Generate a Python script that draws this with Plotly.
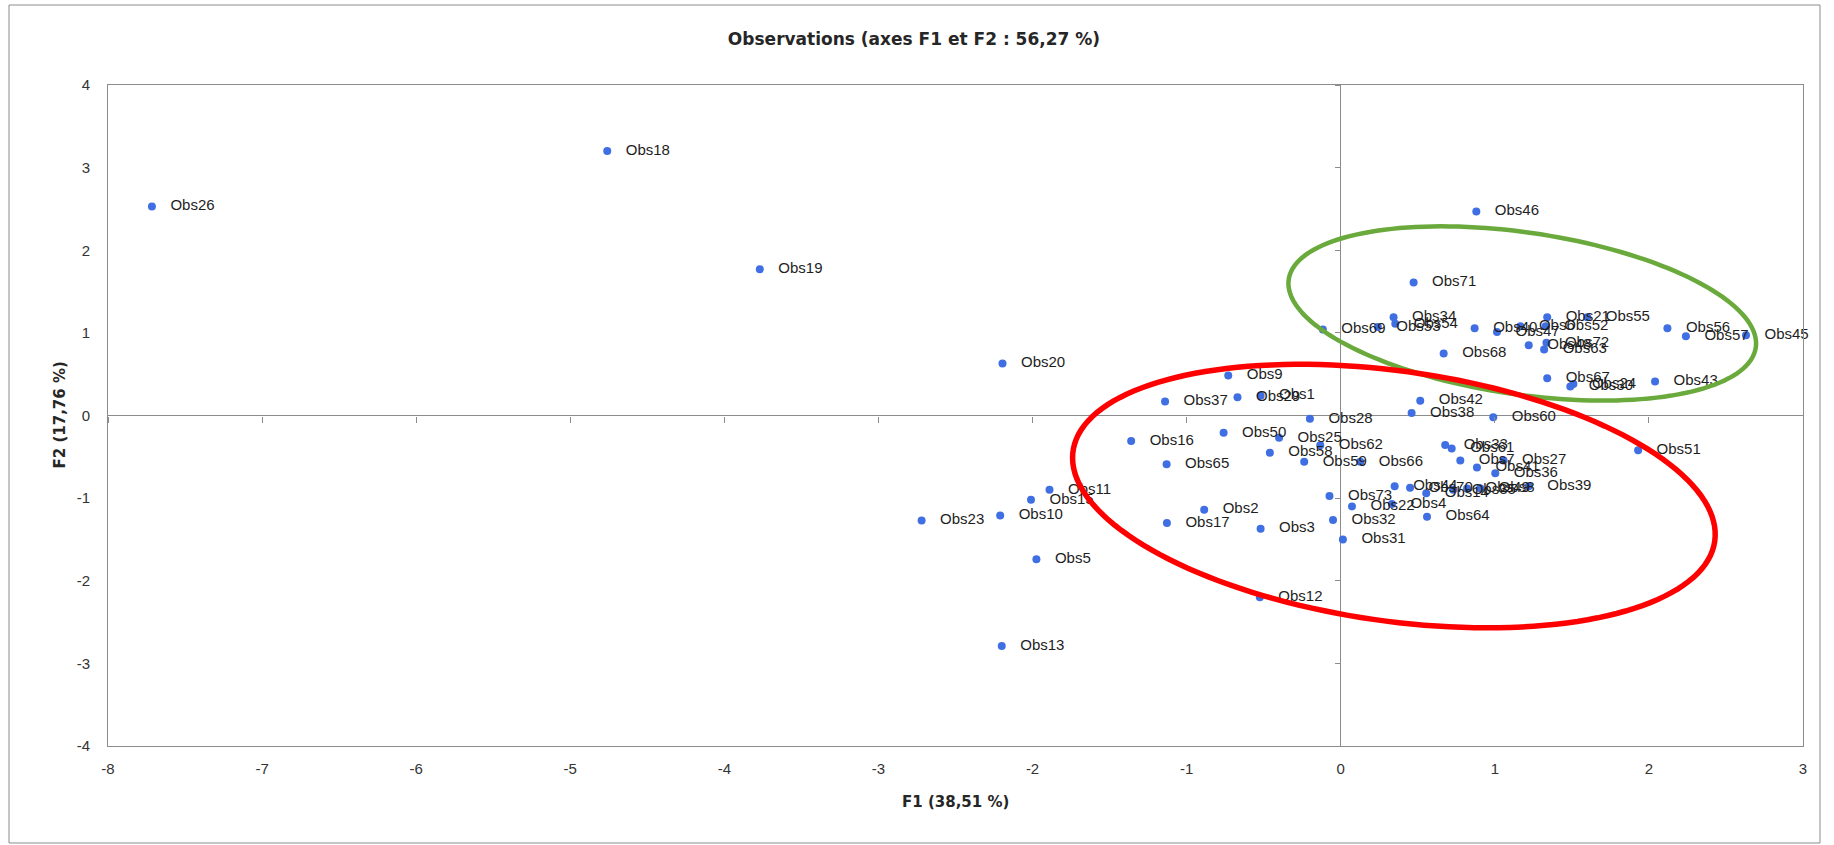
import numpy as np
import plotly.graph_objects as go

# ---------------- data ----------------
labels = [
    "Obs1", "Obs2", "Obs3", "Obs4", "Obs5", "Obs6", "Obs7", "Obs8", "Obs9", "Obs10",
    "Obs11", "Obs12", "Obs13", "Obs14", "Obs15", "Obs16", "Obs17", "Obs18", "Obs19", "Obs20",
    "Obs21", "Obs22", "Obs23", "Obs24", "Obs25", "Obs26", "Obs27", "Obs28", "Obs29", "Obs30",
    "Obs31", "Obs32", "Obs33", "Obs34", "Obs35", "Obs36", "Obs37", "Obs38", "Obs39", "Obs40",
    "Obs41", "Obs42", "Obs43", "Obs44", "Obs45", "Obs46", "Obs47", "Obs48", "Obs49", "Obs50",
    "Obs51", "Obs52", "Obs53", "Obs54", "Obs55", "Obs56", "Obs57", "Obs58", "Obs59", "Obs60",
    "Obs61", "Obs62", "Obs63", "Obs64", "Obs65", "Obs66", "Obs67", "Obs68", "Obs69", "Obs70",
    "Obs71", "Obs72", "Obs73",
]
f1 = [
    -0.52, -0.886, -0.52, 0.332, -1.975, 1.166, 0.776, 0.905, -0.73, -2.21,
    -1.89, -0.525, -2.20, 0.555, -2.01, -1.36, -1.128, -4.76, -3.77, -2.195,
    1.34, 0.073, -2.72, 1.51, -0.40, -7.715, 1.057, -0.20, -0.67, 1.49,
    0.014, -0.05, 0.678, 0.343, 0.73, 1.003, -1.14, 0.46, 1.22, 0.869,
    0.884, 0.516, 2.04, 0.35, 2.63, 0.88, 1.014, 1.22, 0.82, -0.76,
    1.93, 1.33, 0.241, 0.354, 1.60, 2.12, 2.24, -0.46, -0.237, 0.99,
    0.72, -0.133, 1.32, 0.56, -1.13, 0.127, 1.34, 0.668, -0.116, 0.45,
    0.473, 1.335, -0.073,
]
f2 = [
    0.24, -1.14, -1.37, -1.07, -1.74, 1.08, -0.545, -0.88, 0.485, -1.21,
    -0.90, -2.20, -2.79, -0.94, -1.02, -0.31, -1.30, 3.20, 1.77, 0.63,
    1.19, -1.10, -1.27, 0.38, -0.27, 2.53, -0.545, -0.04, 0.22, 0.35,
    -1.50, -1.265, -0.357, 1.19, -0.90, -0.70, 0.17, 0.03, -0.855, 1.055,
    -0.63, 0.18, 0.41, -0.855, 0.97, 2.47, 1.01, 0.85, -0.885, -0.21,
    -0.42, 1.08, 1.07, 1.11, 1.19, 1.055, 0.96, -0.45, -0.56, -0.02,
    -0.40, -0.36, 0.80, -1.225, -0.59, -0.56, 0.45, 0.75, 1.04, -0.875,
    1.61, 0.88, -0.975,
]

x_ticks = [-8, -7, -6, -5, -4, -3, -2, -1, 0, 1, 2, 3]
x_tick_labels = ["-8", "-7", "-6", "-5", "-4", "-3", "-2", "-1", "0", "1", "2", "3"]
y_ticks = [-4, -3, -2, -1, 0, 1, 2, 3, 4]
y_tick_labels = ["-4", "-3", "-2", "-1", "0", "1", "2", "3", "4"]

title_text = "Observations (axes F1 et F2 : 56,27 %)"
x_title = "F1 (38,51 %)"
y_title = "F2 (17,76 %)"
x_range = [-8, 3]
y_range = [-4, 4]

# highlight ellipses: centre (data units), semi-axes (px), tilt (deg)
green_ellipse = dict(cx=1.178, cy=1.235, a=236, b=81, tilt=8.3)
red_ellipse = dict(cx=0.345, cy=-0.975, a=324, b=125, tilt=8.0)

# ---------------- layout geometry ----------------
W, H = 1834, 845
M = dict(l=108, r=31, t=85, b=99)
plot_w = W - M["l"] - M["r"]
plot_h = H - M["t"] - M["b"]
pxx = plot_w / (x_range[1] - x_range[0])
pxy = plot_h / (y_range[1] - y_range[0])


def ellipse_path(e, n=160):
    th = np.radians(e["tilt"])
    t = np.linspace(0, 2 * np.pi, n)
    dx = e["a"] * np.cos(th) * np.cos(t) - e["b"] * np.sin(th) * np.sin(t)
    dy = e["a"] * np.sin(th) * np.cos(t) + e["b"] * np.cos(th) * np.sin(t)
    xs = e["cx"] + dx / pxx
    ys = e["cy"] - dy / pxy
    return "M " + " L ".join(f"{x:.4f},{y:.4f}" for x, y in zip(xs, ys)) + " Z"


FONT = "Liberation Sans, Arial, sans-serif"
TFONT = "DejaVu Sans, Verdana, sans-serif"
GRAY = "#8c8c8c"
pad = "\u00a0\u00a0\u00a0"

fig = go.Figure()
fig.add_trace(go.Scatter(
    x=f1, y=f2, mode="markers+text",
    text=[pad + s for s in labels],
    textposition="middle right",
    textfont=dict(family=FONT, size=15, color="#1e1e1e"),
    marker=dict(size=8, color="#3F6FE2"),
    cliponaxis=False,
    showlegend=False, hoverinfo="text", hovertext=labels,
))
# empty helper trace so the tick-mark axes on the zero lines are drawn
fig.add_trace(go.Scatter(x=[], y=[], xaxis="x2", yaxis="y2",
                         showlegend=False, hoverinfo="skip"))

fig.update_layout(
    width=W, height=H,
    margin=dict(l=M["l"], r=M["r"], t=M["t"], b=M["b"]),
    paper_bgcolor="white", plot_bgcolor="white",
    title=dict(text="<b>" + title_text + "</b>", x=914 / W, xref="container",
               y=1 - 39 / H, yref="container", xanchor="center", yanchor="middle",
               font=dict(family=TFONT, size=17, color="#262626")),
    xaxis=dict(range=x_range, tickvals=x_ticks, ticktext=x_tick_labels, showgrid=False,
               zeroline=True, zerolinecolor=GRAY, zerolinewidth=1,
               showline=True, linecolor=GRAY, linewidth=1, mirror=True,
               ticks="outside", ticklen=9, tickcolor="rgba(0,0,0,0)",
               tickfont=dict(family=FONT, size=15, color="#333333")),
    yaxis=dict(range=y_range, tickvals=y_ticks, ticktext=y_tick_labels, showgrid=False,
               zeroline=True, zerolinecolor=GRAY, zerolinewidth=1,
               showline=True, linecolor=GRAY, linewidth=1, mirror=True,
               ticks="outside", ticklen=14, tickcolor="rgba(0,0,0,0)",
               tickfont=dict(family=FONT, size=15, color="#333333")),
    xaxis2=dict(range=x_range, tickvals=x_ticks, overlaying="x", anchor="free",
                position=(0 - y_range[0]) / (y_range[1] - y_range[0]),
                showgrid=False, zeroline=False, showline=False,
                ticks="outside", ticklen=6, tickcolor=GRAY, showticklabels=False),
    yaxis2=dict(range=y_range, tickvals=y_ticks, overlaying="y", anchor="free",
                position=(0 - x_range[0]) / (x_range[1] - x_range[0]),
                showgrid=False, zeroline=False, showline=False,
                ticks="outside", ticklen=6, tickcolor=GRAY, showticklabels=False),
    shapes=[
        dict(type="path", path=ellipse_path(green_ellipse), xref="x", yref="y",
             line=dict(color="#6AAA3C", width=4.5)),
        dict(type="path", path=ellipse_path(red_ellipse), xref="x", yref="y",
             line=dict(color="#FF0000", width=5.5)),
        dict(type="rect", xref="paper", yref="paper",
             x0=(9 - M["l"]) / plot_w, x1=(1820 - M["l"]) / plot_w,
             y0=(H - M["b"] - 843) / plot_h, y1=(H - M["b"] - 5) / plot_h,
             line=dict(color=GRAY, width=1)),
    ],
    annotations=[
        dict(text="<b>" + x_title + "</b>", xref="paper", yref="paper",
             x=0.5, y=(H - M["b"] - 802) / plot_h, showarrow=False,
             xanchor="center", yanchor="middle",
             font=dict(family=TFONT, size=15, color="#262626")),
        dict(text="<b>" + y_title + "</b>", xref="paper", yref="paper",
             x=(59 - M["l"]) / plot_w, y=0.5, showarrow=False, textangle=-90,
             xanchor="center", yanchor="middle",
             font=dict(family=TFONT, size=15, color="#262626")),
    ],
)

fig.write_html("out.html", config={"displayModeBar": False},
               post_script="document.body.style.margin='0';document.body.style.overflow='hidden';")
